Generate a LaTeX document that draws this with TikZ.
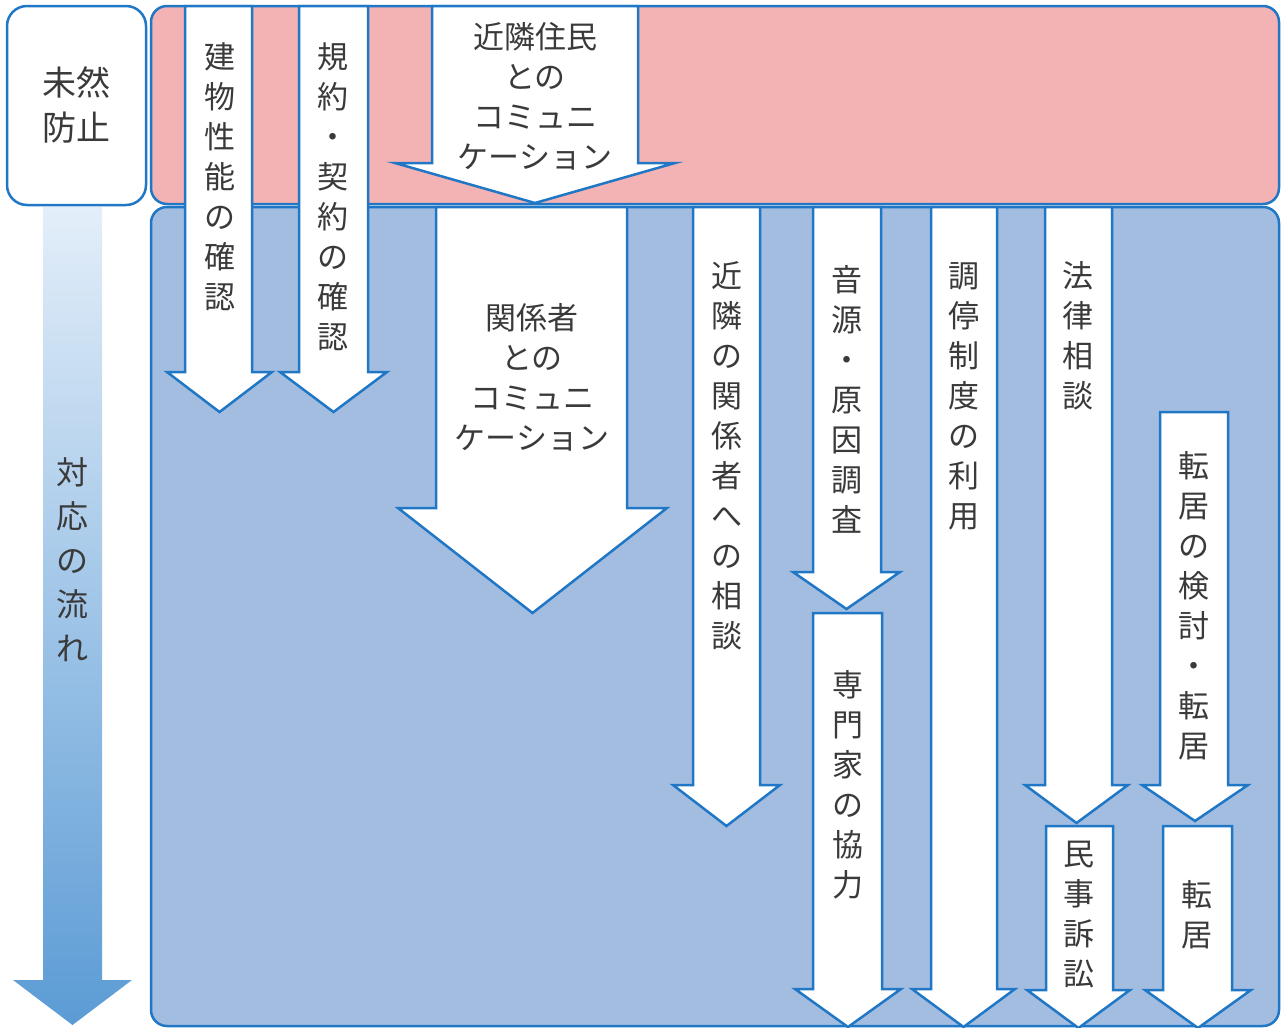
\documentclass[tikz,border=0pt]{standalone}
\usepackage{fontspec}
\newfontfamily\jp{Noto Sans CJK JP}
\definecolor{edge}{HTML}{1F77C5}
\definecolor{pinkp}{HTML}{F3B2B3}
\definecolor{bluep}{HTML}{A3BDE1}
\definecolor{txt}{HTML}{3A3A3A}
\definecolor{gtop}{HTML}{E3EEF9}
\definecolor{gbot}{HTML}{5B9BD5}
\newcommand\dnarrow[7]{%
  \draw[arr] (#1,#3) -- (#1,#4) -- (#5,#4) -- ({(#5+#6)/2},#7) -- (#6,#4) -- (#2,#4) -- (#2,#3) -- cycle;}
\begin{document}
\begin{tikzpicture}[x=1pt,y=-1pt,
  panel/.style={draw=edge,line width=2.5pt,rounded corners=16pt},
  arr/.style={draw=edge,fill=white,line width=2.5pt,line join=miter},
  lbl/.style={inner sep=0pt,align=center,text=txt,font=\jp\fontsize{31}{40}\selectfont}]
\useasboundingbox (0,0) rectangle (1283,1028);
% panels
\draw[panel,fill=pinkp] (151,6) rectangle (1279,204);
\draw[panel,fill=bluep] (151,207) rectangle (1279,1026);
\draw[panel,fill=white,rounded corners=20pt] (7,6) rectangle (146,205);
% flow arrow
\shade[top color=gtop,bottom color=gbot] (43,207) -- (43,980) -- (13,980) -- (72.5,1025) -- (132,980) -- (102,980) -- (102,207) -- cycle;
% arrows
\dnarrow{185}{252}{6}{372}{167}{272}{412}
\dnarrow{299}{368}{6}{372}{280}{387}{412}
\dnarrow{432}{638}{6}{163}{395}{675}{203}
\dnarrow{436}{627}{207}{508}{398}{667}{613}
\dnarrow{693}{760}{207}{785}{673}{780}{826}
\dnarrow{813}{881}{207}{572}{793}{900}{609}
\dnarrow{813}{882}{613}{989}{795}{901}{1027}
\dnarrow{931}{997}{207}{989}{912}{1015}{1027}
\dnarrow{1045}{1112}{207}{785}{1025}{1128}{823}
\dnarrow{1160}{1228}{412}{785}{1142}{1248}{821}
\dnarrow{1046}{1113}{826}{990}{1027}{1130}{1028}
\dnarrow{1163}{1232}{826}{990}{1145}{1251}{1028}
% labels
\node[lbl,font=\jp\fontsize{34}{45}\selectfont] (mizen) at (76,105) {未然\\防止};
\node[lbl,font=\jp\fontsize{32}{44}\selectfont] (flow) at (72,560) {対\\応\\の\\流\\れ};
\node[lbl] (t1) at (220,177) {建\\物\\性\\能\\の\\確\\認};
\node[lbl] (t2) at (333,197) {規\\約\\・\\契\\約\\の\\確\\認};
\node[lbl] (t3) at (535,96) {近隣住民\\との\\コミュニ\\ケーション};
\node[lbl] (t4) at (532,377) {関係者\\との\\コミュニ\\ケーション};
\node[lbl] (t5) at (727,456) {近\\隣\\の\\関\\係\\者\\へ\\の\\相\\談};
\node[lbl] (t6) at (847,399) {音\\源\\・\\原\\因\\調\\査};
\node[lbl] (t7) at (964,396) {調\\停\\制\\度\\の\\利\\用};
\node[lbl] (t8) at (1078,336) {法\\律\\相\\談};
\node[lbl] (t9) at (1194,606) {転\\居\\の\\検\\討\\・\\転\\居};
\node[lbl] (t10) at (848,785) {専\\門\\家\\の\\協\\力};
\node[lbl] (t11) at (1079,915) {民\\事\\訴\\訟};
\node[lbl] (t12) at (1197,915) {転\\居};
\end{tikzpicture}
\end{document}
